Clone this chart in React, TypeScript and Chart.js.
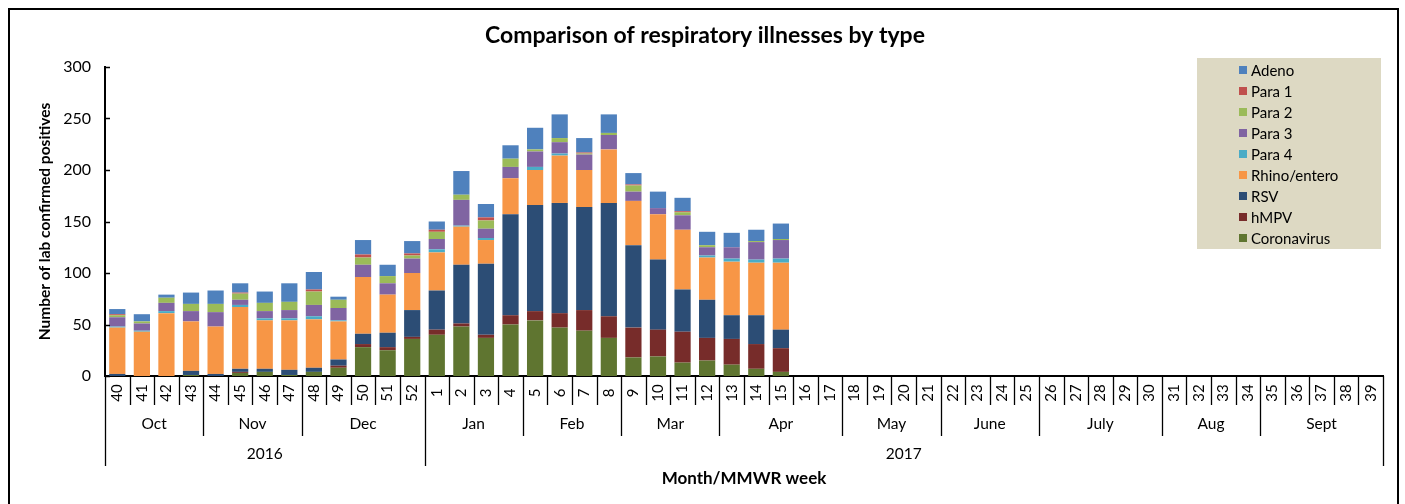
import React, { useEffect, useRef } from 'react';
import { Chart, registerables } from 'chart.js';

Chart.register(...registerables);

const weeks = [
  '40', '41', '42', '43', '44', '45', '46', '47', '48', '49', '50', '51', '52',
  '1', '2', '3', '4', '5', '6', '7', '8', '9', '10', '11', '12', '13', '14', '15', '16', '17',
  '18', '19', '20', '21', '22', '23', '24', '25', '26', '27', '28', '29', '30',
  '31', '32', '33', '34', '35', '36', '37', '38', '39',
];

const monthLabels = ['Oct', 'Nov', 'Dec', 'Jan', 'Feb', 'Mar', 'Apr', 'May', 'June', 'July', 'Aug', 'Sept'];
const monthWeekCounts = [4, 4, 5, 4, 4, 4, 5, 4, 4, 5, 4, 5];
const yearLabels = ['2016', '2017'];
const yearWeekCounts = [13, 39];

const coronavirus = [0, 0, 0, 1, 0, 3, 4, 1, 4, 8, 28, 25, 36, 40, 48, 37, 50, 54, 47, 44, 37, 18, 19, 13, 15, 11, 7, 4, 0, 0, 0, 0, 0, 0, 0, 0, 0, 0, 0, 0, 0, 0, 0, 0, 0, 0, 0, 0, 0, 0, 0, 0];
const hmpv = [0, 0, 0, 0, 0, 1, 0, 0, 0, 2, 3, 3, 2, 5, 3, 3, 9, 9, 14, 20, 21, 29, 26, 30, 22, 25, 24, 23, 0, 0, 0, 0, 0, 0, 0, 0, 0, 0, 0, 0, 0, 0, 0, 0, 0, 0, 0, 0, 0, 0, 0, 0];
const rsv = [2, 0, 0, 4, 2, 3, 3, 5, 4, 6, 10, 14, 26, 38, 57, 69, 98, 103, 107, 100, 110, 80, 68, 41, 37, 23, 28, 18, 0, 0, 0, 0, 0, 0, 0, 0, 0, 0, 0, 0, 0, 0, 0, 0, 0, 0, 0, 0, 0, 0, 0, 0];
const rhino = [45, 43, 61, 48, 46, 60, 47, 48, 47, 37, 55, 37, 36, 37, 37, 23, 35, 34, 46, 36, 52, 43, 44, 58, 41, 52, 51, 65, 0, 0, 0, 0, 0, 0, 0, 0, 0, 0, 0, 0, 0, 0, 0, 0, 0, 0, 0, 0, 0, 0, 0, 0];
const para4 = [1, 1, 2, 0, 0, 2, 2, 2, 3, 1, 0, 0, 0, 3, 1, 2, 0, 3, 2, 0, 0, 0, 0, 0, 2, 3, 3, 4, 0, 0, 0, 0, 0, 0, 0, 0, 0, 0, 0, 0, 0, 0, 0, 0, 0, 0, 0, 0, 0, 0, 0, 0];
const para3 = [9, 7, 8, 10, 14, 5, 7, 8, 11, 12, 12, 11, 14, 10, 25, 9, 11, 15, 11, 15, 14, 9, 6, 14, 8, 11, 17, 18, 0, 0, 0, 0, 0, 0, 0, 0, 0, 0, 0, 0, 0, 0, 0, 0, 0, 0, 0, 0, 0, 0, 0, 0];
const para2 = [2, 2, 5, 7, 8, 6, 8, 8, 13, 8, 7, 7, 3, 7, 5, 8, 8, 2, 4, 1, 2, 6, 0, 3, 2, 0, 1, 1, 0, 0, 0, 0, 0, 0, 0, 0, 0, 0, 0, 0, 0, 0, 0, 0, 0, 0, 0, 0, 0, 0, 0, 0];
const para1 = [1, 0, 0, 0, 0, 1, 0, 0, 2, 0, 3, 0, 2, 2, 0, 3, 0, 0, 0, 1, 0, 1, 0, 1, 0, 0, 0, 0, 0, 0, 0, 0, 0, 0, 0, 0, 0, 0, 0, 0, 0, 0, 0, 0, 0, 0, 0, 0, 0, 0, 0, 0];
const adeno = [5, 7, 3, 11, 13, 9, 11, 18, 17, 3, 14, 11, 12, 8, 23, 13, 13, 21, 23, 14, 18, 11, 16, 13, 13, 14, 11, 15, 0, 0, 0, 0, 0, 0, 0, 0, 0, 0, 0, 0, 0, 0, 0, 0, 0, 0, 0, 0, 0, 0, 0, 0];

const yTicks = [0, 50, 100, 150, 200, 250, 300];

const FONT = 'Lato, "Open Sans", sans-serif';

const seriesDefs = [
  { label: 'Coronavirus', data: coronavirus, color: '#5F7530' },
  { label: 'hMPV', data: hmpv, color: '#772C2A' },
  { label: 'RSV', data: rsv, color: '#2C4D75' },
  { label: 'Rhino/entero', data: rhino, color: '#F79646' },
  { label: 'Para 4', data: para4, color: '#4BACC6' },
  { label: 'Para 3', data: para3, color: '#8064A2' },
  { label: 'Para 2', data: para2, color: '#9BBB59' },
  { label: 'Para 1', data: para1, color: '#C0504D' },
  { label: 'Adeno', data: adeno, color: '#4F81BD' },
];

const decorPlugin = {
  id: 'decor',
  afterDraw(chart: any) {
    const ctx = chart.ctx as CanvasRenderingContext2D;
    const xs = chart.scales.x;
    const ys = chart.scales.y;
    const area = chart.chartArea;
    const n = weeks.length;
    const cw = (xs.right - xs.left) / n;
    const bx = (k: number) => xs.left + k * cw;
    const axisY = area.bottom;

    ctx.save();
    // Title
    ctx.fillStyle = '#000';
    ctx.textAlign = 'center';
    ctx.textBaseline = 'middle';
    ctx.font = `bold 23px ${FONT}`;
    ctx.fillText('Comparison of respiratory illnesses by type', 705, 36);

    // Y tick marks (inside)
    ctx.strokeStyle = '#000';
    ctx.lineWidth = 1.5;
    yTicks.forEach((v) => {
      const py = Math.round(ys.getPixelForValue(v)) + 0.5;
      ctx.beginPath();
      ctx.moveTo(area.left, py);
      ctx.lineTo(area.left + 5, py);
      ctx.stroke();
    });

    // Y title
    ctx.save();
    ctx.translate(45, (area.top + area.bottom) / 2);
    ctx.rotate(-Math.PI / 2);
    ctx.font = `bold 15.5px ${FONT}`;
    ctx.textAlign = 'center';
    ctx.textBaseline = 'middle';
    ctx.fillText('Number of lab confirmed positives', 0, 0);
    ctx.restore();

    // Boundaries
    const monthBounds = new Set<number>();
    let acc = 0;
    monthWeekCounts.forEach((c) => { monthBounds.add(acc); acc += c; monthBounds.add(acc); });
    const yearBounds = new Set<number>();
    acc = 0;
    yearWeekCounts.forEach((c) => { yearBounds.add(acc); acc += c; yearBounds.add(acc); });

    ctx.lineWidth = 1.3;
    for (let k = 0; k <= n; k++) {
      const px = Math.round(bx(k)) + 0.5;
      let bottom = 405;
      if (monthBounds.has(k)) bottom = 436;
      if (yearBounds.has(k)) bottom = 466;
      ctx.beginPath();
      ctx.moveTo(px, axisY);
      ctx.lineTo(px, bottom);
      ctx.stroke();
    }

    // Week labels
    ctx.font = `15px ${FONT}`;
    weeks.forEach((w, i) => {
      const cx = xs.getPixelForValue(i);
      ctx.save();
      ctx.translate(cx, 393);
      ctx.rotate(-Math.PI / 2);
      ctx.textAlign = 'center';
      ctx.textBaseline = 'middle';
      ctx.fillText(w, 0, 0);
      ctx.restore();
    });

    // Month labels
    ctx.textAlign = 'center';
    ctx.textBaseline = 'middle';
    ctx.font = `15.5px ${FONT}`;
    acc = 0;
    monthLabels.forEach((m, i) => {
      const c = monthWeekCounts[i];
      ctx.fillText(m, (bx(acc) + bx(acc + c)) / 2, 424);
      acc += c;
    });
    // Year labels
    acc = 0;
    yearLabels.forEach((yl, i) => {
      const c = yearWeekCounts[i];
      ctx.fillText(yl, (bx(acc) + bx(acc + c)) / 2, 454);
      acc += c;
    });

    // X title
    ctx.font = `bold 17px ${FONT}`;
    ctx.fillText('Month/MMWR week', (area.left + area.right) / 2, 479);

    // Legend
    ctx.fillStyle = '#DDD9C3';
    ctx.fillRect(1197, 58, 184, 191);
    ctx.font = `15px ${FONT}`;
    ctx.textAlign = 'left';
    ctx.textBaseline = 'middle';
    const legendItems = [...chart.data.datasets].reverse();
    legendItems.forEach((ds: any, i: number) => {
      const y = 70 + 21 * i;
      ctx.fillStyle = ds.backgroundColor;
      ctx.fillRect(1239, y - 4, 8, 8);
      ctx.fillStyle = '#000';
      ctx.fillText(ds.label, 1251, y + 1);
    });

    // Frame
    ctx.strokeStyle = '#000';
    ctx.lineWidth = 2;
    ctx.strokeRect(9, 9, 1389, 600);
    ctx.restore();
  },
};

export default function App() {
  const canvasRef = useRef<HTMLCanvasElement | null>(null);

  useEffect(() => {
    if (!canvasRef.current) return;
    const chart = new Chart(canvasRef.current, {
      type: 'bar',
      data: {
        labels: weeks,
        datasets: seriesDefs.map((s) => ({
          label: s.label,
          data: s.data,
          backgroundColor: s.color,
          borderWidth: 0,
          barPercentage: 0.66,
          categoryPercentage: 1,
        })),
      },
      options: {
        responsive: false,
        animation: false,
        devicePixelRatio: 1,
        layout: { padding: { left: 0, top: 67, right: 22, bottom: 0 } },
        plugins: {
          legend: { display: false },
          title: { display: false },
          tooltip: { enabled: false },
        },
        scales: {
          x: {
            stacked: true,
            grid: { display: false, drawTicks: false },
            border: { display: true, color: '#000', width: 2 },
            ticks: { display: false },
            afterFit: (s: any) => { s.height = 128; },
          },
          y: {
            stacked: true,
            min: 0,
            max: 300,
            grid: { display: false, drawTicks: false },
            border: { display: true, color: '#000', width: 2 },
            ticks: {
              stepSize: 50,
              padding: 14,
              color: '#000',
              font: { family: FONT, size: 16 },
            },
            afterFit: (s: any) => { s.width = 105; },
          },
        },
      },
      plugins: [decorPlugin],
    });
    return () => chart.destroy();
  }, []);

  return (
    <div style={{ position: 'fixed', left: 0, top: 0, width: 1405, height: 504, background: '#fff' }}>
      <canvas ref={canvasRef} width={1405} height={504} style={{ width: 1405, height: 504, display: 'block' }} />
    </div>
  );
}
